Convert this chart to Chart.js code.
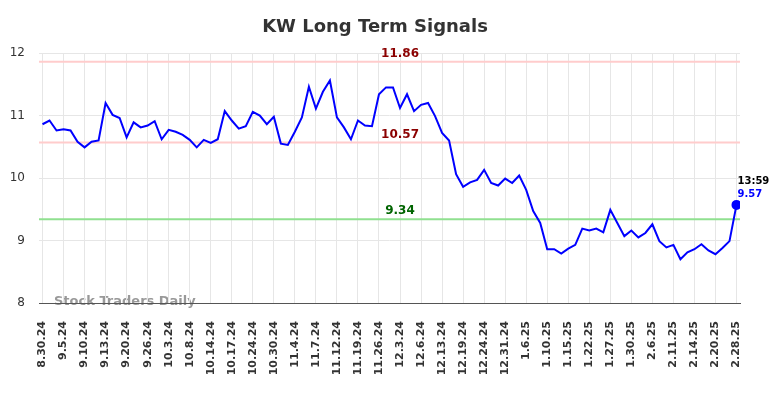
<!DOCTYPE html>
<html>
<head>
<meta charset="utf-8">
<script src="https://cdn.jsdelivr.net/npm/chart.js@4.4.1/dist/chart.umd.min.js"></script>
<style>
  html, body { margin: 0; padding: 0; background: #fff; }
  #wrap { width: 784px; height: 398px; }
</style>
</head>
<body>
<div id="wrap"><canvas id="signals"></canvas></div>
<script>
// tick labels, one every 3rd point
const tickLabels = ['8.30.24', '9.5.24', '9.10.24', '9.13.24', '9.20.24', '9.26.24', '10.3.24', '10.8.24',
    '10.14.24', '10.17.24', '10.24.24', '10.30.24', '11.4.24', '11.7.24', '11.12.24', '11.19.24',
    '11.26.24', '12.3.24', '12.6.24', '12.13.24', '12.19.24', '12.24.24', '12.31.24', '1.6.25',
    '1.10.25', '1.15.25', '1.22.25', '1.27.25', '1.30.25', '2.6.25', '2.11.25', '2.14.25',
    '2.20.25', '2.28.25'];

// closing prices
const prices = [
    10.86, 10.92, 10.76, 10.78, 10.76, 10.58, 10.49, 10.58, 10.60, 11.20,
    11.01, 10.96, 10.65, 10.89, 10.81, 10.84, 10.91, 10.62, 10.77, 10.74,
    10.69, 10.61, 10.49, 10.61, 10.56, 10.62, 11.07, 10.92, 10.79, 10.83,
    11.06, 11.00, 10.86, 10.98, 10.55, 10.53, 10.74, 10.97, 11.46, 11.11,
    11.38, 11.56, 10.97, 10.81, 10.62, 10.92, 10.84, 10.83, 11.34, 11.45,
    11.45, 11.12, 11.34, 11.07, 11.17, 11.20, 10.99, 10.72, 10.60, 10.06,
    9.86, 9.93, 9.97, 10.13, 9.92, 9.88, 9.99, 9.92, 10.04, 9.81,
    9.47, 9.28, 8.86, 8.86, 8.79, 8.87, 8.93, 9.19, 9.16, 9.19,
    9.13, 9.49, 9.28, 9.07, 9.16, 9.05, 9.12, 9.26, 8.99, 8.89,
    8.93, 8.70, 8.81, 8.86, 8.94, 8.84, 8.78, 8.88, 8.99, 9.57
];

// signal levels
const levelValues = [11.86, 10.57, 9.34];
const levelLineColors = ['#ffcccc', '#ffcccc', '#90e090'];
const levelTextColors = ['#8b0000', '#8b0000', '#006400'];

const lastTime = '13:59';
const FONT = "'DejaVu Sans', sans-serif";

// custom drawing: title, watermark, level lines and labels
const overlay = {
    id: 'overlay',
    beforeDraw(chart) {
        const ctx = chart.ctx;
        ctx.save();
        ctx.font = 'bold 18px ' + FONT;
        ctx.fillStyle = '#333';
        ctx.textAlign = 'center';
        ctx.textBaseline = 'middle';
        ctx.fillText('KW Long Term Signals', 375, 27);

        ctx.font = 'bold 13px ' + FONT;
        ctx.fillStyle = '#999';
        ctx.textAlign = 'left';
        ctx.fillText('Stock Traders Daily', 54, 302);
        ctx.restore();
    },
    beforeDatasetsDraw(chart) {
        const { ctx, chartArea, scales } = chart;
        ctx.save();
        levelValues.forEach((v, i) => {
            const y = scales.y.getPixelForValue(v);
            ctx.strokeStyle = levelLineColors[i];
            ctx.lineWidth = 2;
            ctx.beginPath();
            ctx.moveTo(chartArea.left, y);
            ctx.lineTo(chartArea.right, y);
            ctx.stroke();
        });
        ctx.restore();
    },
    afterDatasetsDraw(chart) {
        const { ctx, scales } = chart;
        ctx.save();
        ctx.font = 'bold 12px ' + FONT;
        ctx.textAlign = 'center';
        ctx.textBaseline = 'middle';
        const lx = scales.x.getPixelForValue(51);
        levelValues.forEach((v, i) => {
            ctx.fillStyle = levelTextColors[i];
            ctx.fillText(v.toFixed(2), lx, scales.y.getPixelForValue(v) - 8);
        });

        const last = prices.length - 1;
        const px = scales.x.getPixelForValue(last);
        const py = scales.y.getPixelForValue(prices[last]);
        ctx.font = 'bold 10px ' + FONT;
        ctx.textAlign = 'left';
        ctx.fillStyle = '#000';
        ctx.fillText(lastTime, px + 1, py - 23);
        ctx.fillStyle = '#0000ff';
        ctx.fillText(prices[last].toFixed(2), px + 1, py - 10);
        ctx.restore();
    }
};

const ctx = document.getElementById('signals').getContext('2d');
new Chart(ctx, {
    type: 'line',
    data: {
        datasets: [{
            data: prices.map((p, i) => ({ x: i, y: p })),
            borderColor: '#0000ff',
            backgroundColor: '#0000ff',
            borderWidth: 2,
            tension: 0,
            fill: false,
            pointRadius: c => c.dataIndex === prices.length - 1 ? 4 : 0,
            pointHoverRadius: 0
        }]
    },
    options: {
        responsive: true,
        maintainAspectRatio: false,
        animation: false,
        devicePixelRatio: 1,
        layout: { padding: { top: 53, right: 44, left: 0, bottom: 0 } },
        plugins: {
            legend: { display: false },
            title: { display: false },
            tooltip: { enabled: false }
        },
        scales: {
            x: {
                type: 'linear',
                min: -0.5,
                max: 99.5,
                afterBuildTicks: axis => {
                    axis.ticks = tickLabels.map((_, i) => ({ value: i * 3 }));
                },
                afterFit: axis => { axis.height = 95; },
                grid: { color: '#e6e6e6', lineWidth: 1, drawTicks: false },
                border: { display: true, color: '#555', width: 1 },
                ticks: {
                    autoSkip: false,
                    minRotation: 90,
                    maxRotation: 90,
                    padding: 18,
                    color: '#333',
                    font: { family: FONT, size: 11, weight: 'bold' },
                    callback: v => tickLabels[v / 3]
                }
            },
            y: {
                min: 8,
                max: 12,
                afterFit: axis => { axis.width = 39; },
                grid: { color: '#e6e6e6', lineWidth: 1, drawTicks: false },
                border: { display: false },
                ticks: {
                    stepSize: 1,
                    padding: 14,
                    color: '#333',
                    font: { family: FONT, size: 12 }
                }
            }
        }
    },
    plugins: [overlay]
});
</script>
</body>
</html>
